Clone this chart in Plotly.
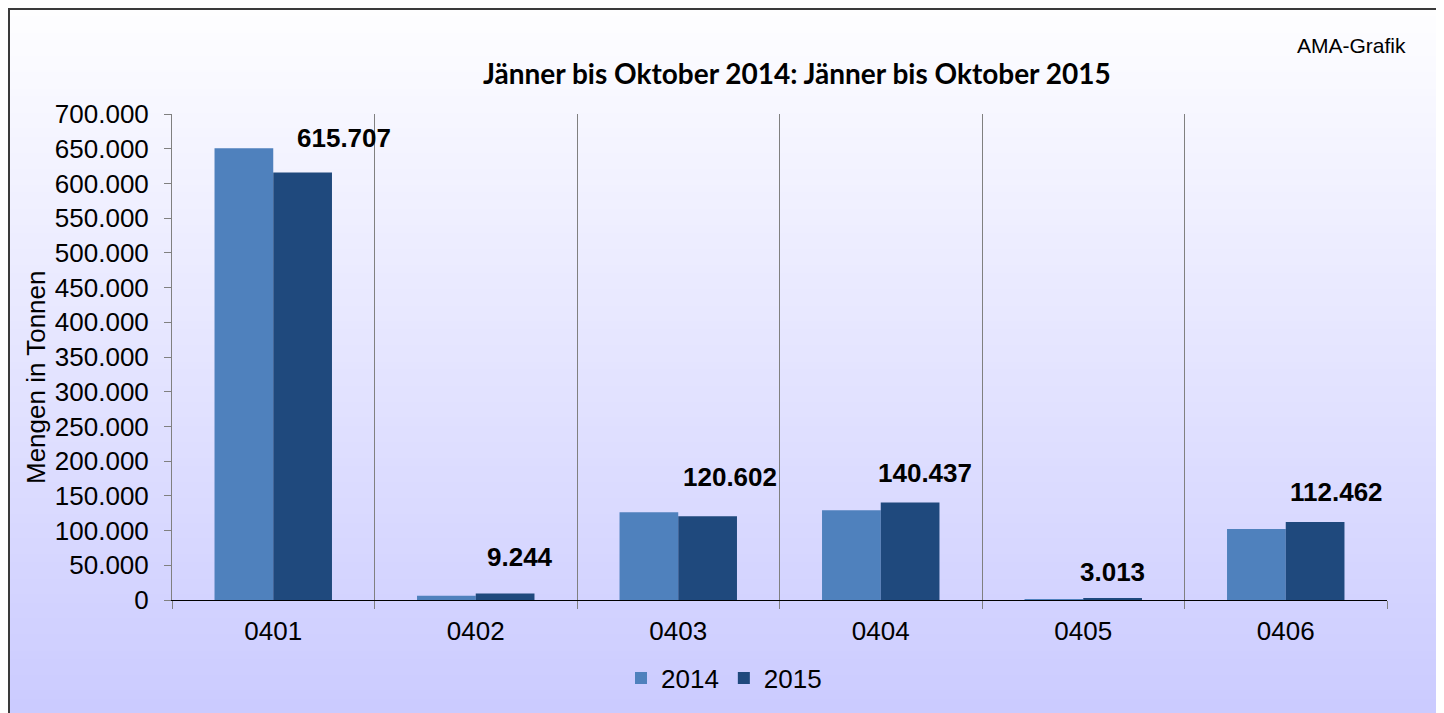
import plotly.graph_objects as go

categories = ["0401", "0402", "0403", "0404", "0405", "0406"]
values_2014 = [650500, 6200, 126300, 129200, 1000, 102300]
values_2015 = [615707, 9244, 120602, 140437, 3013, 112462]
series_names = ["2014", "2015"]
title_text = "Jänner bis Oktober 2014: Jänner bis Oktober 2015"
y_title = "Mengen in Tonnen"
source_text = "AMA-Grafik"

# label placement (style, pixels)
label_xshift = [71, 44, 52, 44, 29, 51]
label_yshift = [35, 37, 39, 30, 26, 30]

OFF = 8  # page body margin
W, H = 1436, 705
ML, MR, MT, MB = 164, 57, 106, 113
PW, PH = W - ML - MR, H - MT - MB

def px_x(xp):
    return (xp - OFF - ML) / PW

def px_y(yp):
    return (H - MB - (yp - OFF)) / PH

fig = go.Figure()
fig.add_trace(go.Bar(x=categories, y=values_2014, name=series_names[0],
                     marker=dict(color="#4F81BD", line=dict(width=0))))
fig.add_trace(go.Bar(x=categories, y=values_2015, name=series_names[1],
                     marker=dict(color="#1F497D", line=dict(width=0))))

shapes = []
# background gradient (white at top to lavender at bottom)
N = 90
PAGE_H = 713
top_c = (255, 255, 255)
bot_c = (203, 203, 255)
for k in range(N):
    y0p = PAGE_H + 10 - (PAGE_H + 10) * k / N
    t = min(max(y0p / PAGE_H, 0), 1)
    c = tuple(round(top_c[i] + (bot_c[i] - top_c[i]) * t) for i in range(3))
    shapes.append(dict(type="rect", xref="paper", yref="paper", layer="below",
                       x0=px_x(0), x1=px_x(1450), y0=px_y(y0p), y1=px_y(0),
                       fillcolor=f"rgb({c[0]},{c[1]},{c[2]})", line=dict(width=0)))
# outer border
shapes.append(dict(type="rect", xref="paper", yref="paper", layer="above",
                   x0=px_x(9), x1=px_x(1439), y0=px_y(730), y1=px_y(9),
                   line=dict(color="#3a3a3a", width=2), fillcolor="rgba(0,0,0,0)"))

annotations = []
for i, v in enumerate(values_2015):
    annotations.append(dict(x=i, y=v, xref="x", yref="y",
                            text="<b>" + f"{v:,}".replace(",", ".") + "</b>",
                            showarrow=False, xshift=label_xshift[i], yshift=label_yshift[i],
                            font=dict(family="Liberation Sans, Arial", size=26, color="black"),
                            xanchor="center", yanchor="middle"))
annotations.append(dict(x=px_x(797), y=px_y(73), xref="paper", yref="paper",
                        text=f"<b>{title_text}</b>", showarrow=False,
                        font=dict(family="Lato, Open Sans", size=28, color="black"),
                        xanchor="center", yanchor="middle"))
annotations.append(dict(x=px_x(1408), y=px_y(45), xref="paper", yref="paper",
                        text=source_text, showarrow=False,
                        font=dict(family="Liberation Sans, Arial", size=21, color="black"),
                        xanchor="right", yanchor="middle"))
annotations.append(dict(x=px_x(36), y=px_y(378), xref="paper", yref="paper",
                        text=y_title, showarrow=False, textangle=-90,
                        font=dict(family="Liberation Sans, Arial", size=26, color="black"),
                        xanchor="center", yanchor="middle"))

fig.update_layout(
    width=W, height=H,
    margin=dict(l=ML, r=MR, t=MT, b=MB, autoexpand=False),
    paper_bgcolor="white",
    plot_bgcolor="rgba(0,0,0,0)",
    separators=",.",
    barmode="group", bargap=0.42, bargroupgap=0,
    font=dict(family="Liberation Sans, Arial", size=26, color="black"),
    shapes=shapes, annotations=annotations,
    legend=dict(orientation="h", x=px_x(724), y=px_y(678), xanchor="center", yanchor="middle",
                bgcolor="rgba(0,0,0,0)", font=dict(size=26), itemwidth=30,
                traceorder="normal"),
    showlegend=True,
)
fig.update_xaxes(type="category", tickson="boundaries", showgrid=True, gridcolor="#808080",
                 gridwidth=1, showline=True, linecolor="black", linewidth=1,
                 ticks="outside", ticklen=8, tickcolor="#808080", ticklabelstandoff=8,
                 tickfont=dict(size=26), range=[-0.5, 5.5], zeroline=False)
fig.update_yaxes(range=[0, 700000], dtick=50000, tickformat=",d", showgrid=False,
                 showline=True, linecolor="#808080", linewidth=1,
                 ticks="outside", ticklen=7, tickcolor="#808080",
                 ticklabelstandoff=10, tickfont=dict(size=26), zeroline=False)

fig.write_html("out.html")
